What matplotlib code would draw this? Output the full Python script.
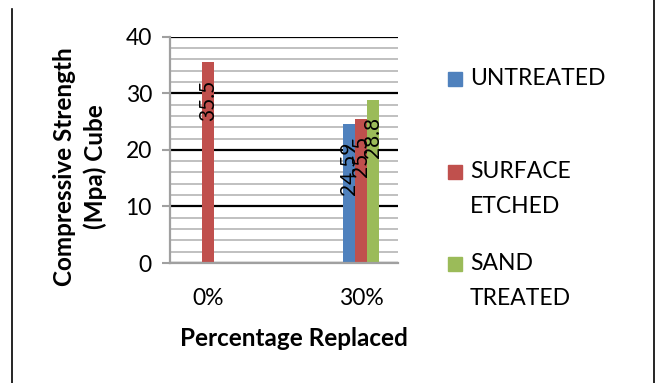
import matplotlib
matplotlib.use("Agg")
import matplotlib.pyplot as plt
from matplotlib.patches import Rectangle
from matplotlib.lines import Line2D
import numpy as np

categories = ["0%", "30%"]
series_names = ["UNTREATED", "SURFACE\nETCHED", "SAND\nTREATED"]
untreated = [np.nan, 24.59]
surface_etched = [35.5, 25.5]
sand_treated = [np.nan, 28.8]
series_values = [untreated, surface_etched, sand_treated]
labels_text = [[None, "24.59"], ["35.5", "25.5"], [None, "28.8"]]
colors = ["#4F81BD", "#C0504D", "#9BBB59"]
yticks = [0, 10, 20, 30, 40]

plt.rcParams['font.family'] = ['Lato', 'DejaVu Sans']

W, H = 660, 383
fig = plt.figure(figsize=(6.6, 3.83), dpi=100)
ax = fig.add_axes([170 / W, 1 - 263 / H, (398 - 170) / W, (263 - 36.7) / H])

x = np.arange(len(categories))
bw = 0.08
offsets = [-bw, 0, bw]
for vals, off, col, labs in zip(series_values, offsets, colors, labels_text):
    ax.bar(x + off, vals, width=bw, color=col, zorder=3)
    for xi, v, lab in zip(x, vals, labs):
        if lab is None:
            continue
        ax.annotate(lab, xy=(xi + off, v), xytext=(0, -12.5), textcoords='offset points',
                    rotation=90, ha='center', va='top', fontsize=15, zorder=4,
                    color='black')

ax.set_xlim(-0.248, 1.242)
ax.set_ylim(0, 40)
ax.set_yticks(yticks)
ax.set_yticks(np.arange(0, 41, 2), minor=True)
ax.set_yticklabels([str(t) for t in yticks], fontsize=16.5)
ax.set_xticks(x)
ax.set_xticklabels(categories, fontsize=16.5)
ax.tick_params(axis='x', length=0, pad=18)
ax.tick_params(axis='y', which='major', length=6, color='#A0A0A0', width=1.5, pad=7)
ax.tick_params(axis='y', which='minor', length=0)
ax.grid(axis='y', which='major', color='black', linewidth=1.6, zorder=1)
ax.grid(axis='y', which='minor', color='#C0C0C0', linewidth=1.4, zorder=0)
for s in ['top', 'right']:
    ax.spines[s].set_visible(False)
for s in ['left', 'bottom']:
    ax.spines[s].set_color('#A0A0A0')
    ax.spines[s].set_linewidth(1.6)
    ax.spines[s].set_zorder(5)

fig.text(80 / W, 1 - 167 / H, "Compressive Strength\n(Mpa) Cube", fontsize=17.5,
         fontweight='bold', rotation=90, ha='center', va='center', linespacing=1.4,
         multialignment='center')
fig.text(294 / W, 1 - 338 / H, "Percentage Replaced", fontsize=17.5, fontweight='bold',
         ha='center', va='center')

# legend (manual, to align markers with first line)
leg_y = [79, 172, 264]
for name, col, yy in zip(series_names, colors, leg_y):
    fig.add_artist(Rectangle((448 / W, 1 - (yy + 7) / H), 14 / W, 14 / H,
                             transform=fig.transFigure, color=col))
    fig.text(470 / W, 1 - (yy - 11) / H, name, fontsize=16.5, va='top', ha='left',
             linespacing=1.8)

# page frame lines
fig.add_artist(Line2D([12 / W, 12 / W], [0, 1 - 9 / H], transform=fig.transFigure,
                      color='black', linewidth=1.2))
fig.add_artist(Line2D([654 / W, 654 / W], [0, 1], transform=fig.transFigure,
                      color='black', linewidth=1.2))

fig.savefig("out.png", dpi=100)
